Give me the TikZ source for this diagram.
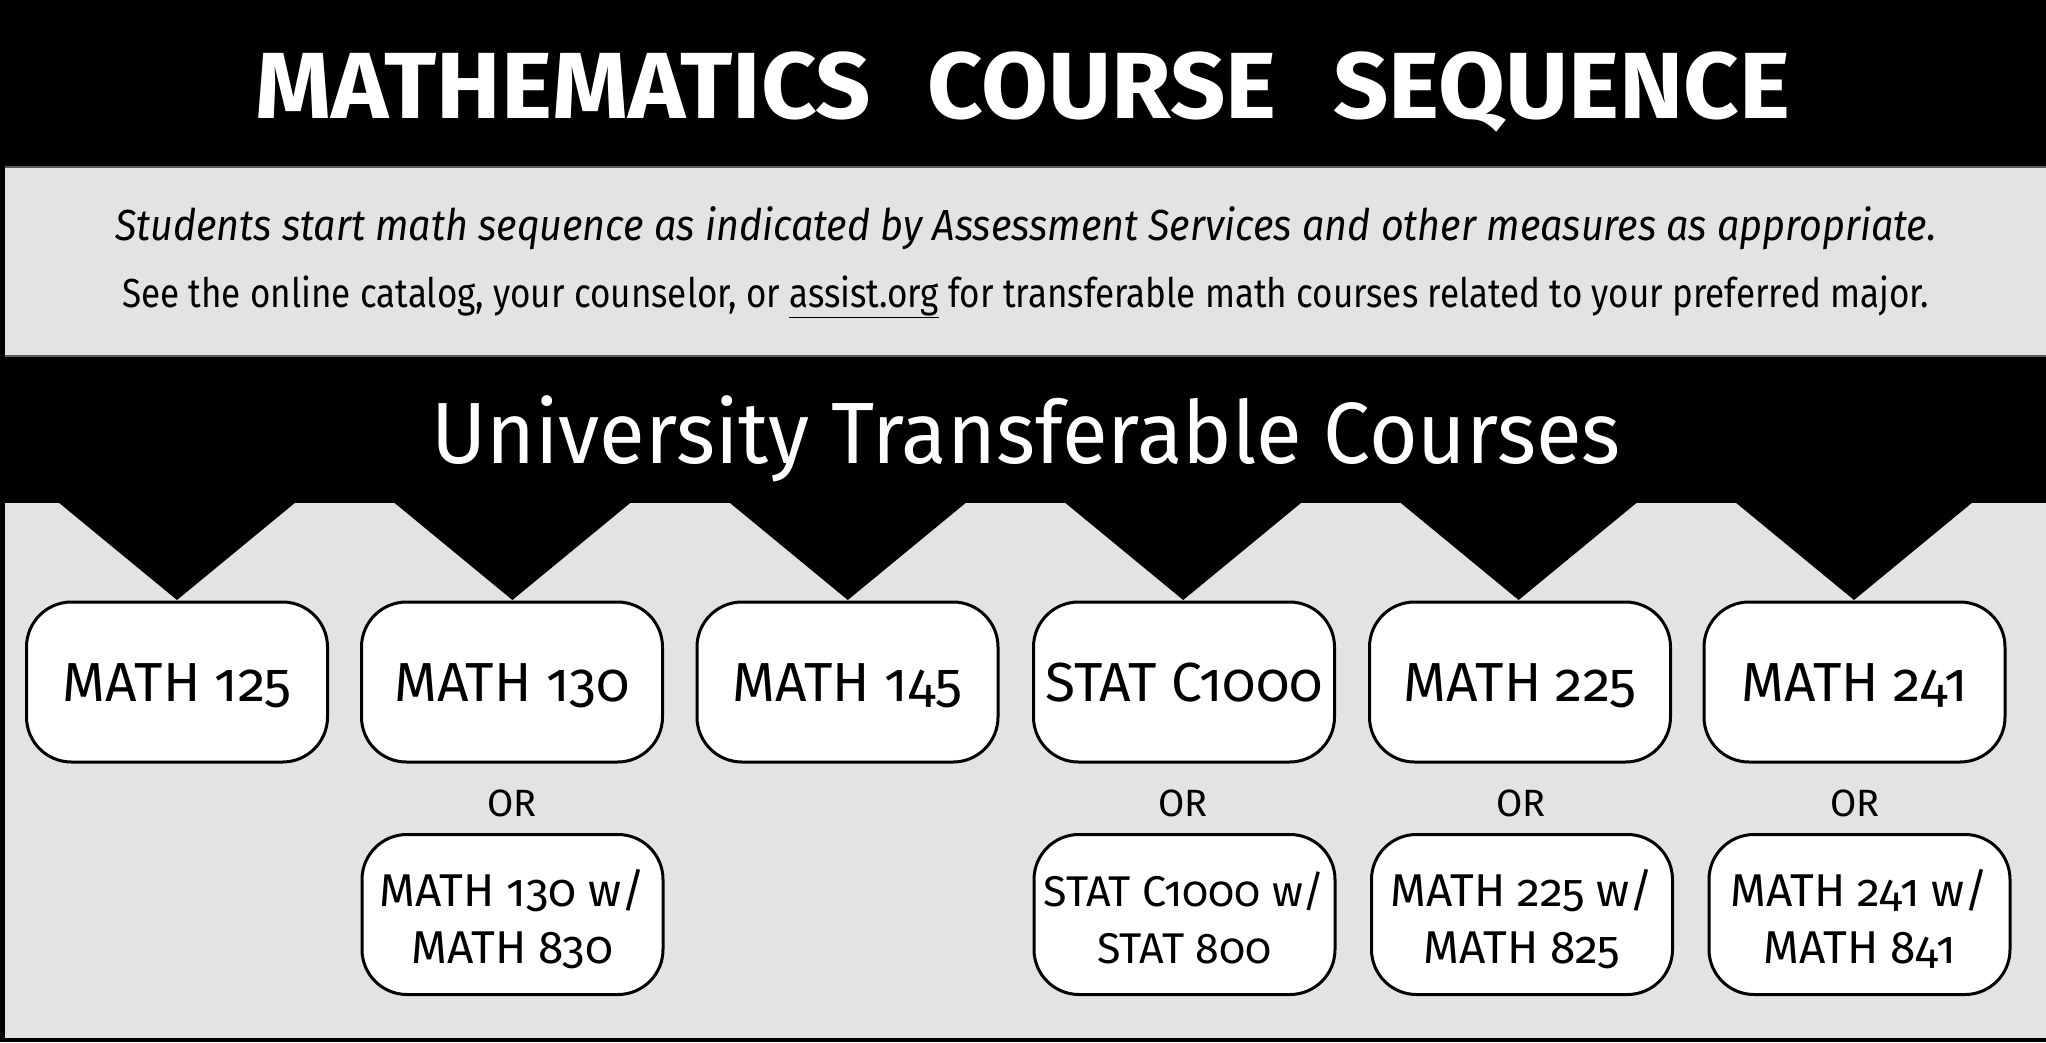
\documentclass[tikz,border=0pt]{standalone}
\usepackage{graphicx}
\usepackage{fontspec}
\setmainfont{Fira Sans}
\newfontfamily\boxfont[Numbers=OldStyle]{Fira Sans}
\definecolor{bggray}{RGB}{227,227,227}
\definecolor{sepgray}{RGB}{90,90,90}
\begin{document}
\begin{tikzpicture}[x=1pt,y=-1pt,
  course/.style={draw=black,line width=3pt,fill=white,rounded corners=45pt,
    minimum width=301pt,minimum height=160pt,inner sep=0pt,
    font=\boxfont\fontsize{55}{60}\selectfont,text height=38pt,text depth=0pt},
  course2/.style={draw=black,line width=3pt,fill=white,rounded corners=45pt,
    minimum width=301pt,minimum height=160pt,inner sep=0pt,align=center,
    font=\boxfont\fontsize{46}{57}\selectfont,text height=97pt,text depth=0pt},
  orlabel/.style={anchor=base,font=\boxfont\fontsize{38}{40}\selectfont},
  banner/.style={anchor=base,text=white}]
\useasboundingbox (0,0) rectangle (2046,1042);
\fill[bggray] (0,0) rectangle (2046,1042);
\fill[black] (0,0) rectangle (2046,167);
\fill[black] (0,356) rectangle (2046,503);
\foreach \cx in {177,512.4,847.8,1183.2,1518.6,1854}
  \fill[black] (\cx-119,502) -- (\cx+119,502) -- (\cx,600) -- cycle;
\draw[sepgray,line width=1.5pt] (0,167) -- (2046,167);
\draw[sepgray,line width=1.5pt] (0,356) -- (2046,356);
\draw[black,line width=5pt] (2.5,0) -- (2.5,1042);
\draw[black,line width=4pt] (0,1040) -- (2046,1040);

\node[banner,font=\bfseries\fontsize{94}{100}\selectfont] (title) at (1023,118)
  {\scalebox{1.03}[1]{MATHEMATICS\hspace{.35em} COURSE\hspace{.35em} SEQUENCE}};
\node[anchor=base,font=\itshape\fontsize{43.5}{50}\selectfont] (intro) at (1026,240)
  {\scalebox{0.908}[1]{Students start math sequence as indicated by Assessment Services and other measures as appropriate.}};
\node[anchor=base,font=\fontsize{40.6}{46}\selectfont] (note) at (1025.5,307)
  {\scalebox{0.863}[1]{See the online catalog, your counselor, or \underline{assist.org} for transferable math courses related to your preferred major.}};
\node[banner,font=\fontsize{87}{90}\selectfont] (univ) at (1026,463)
  {\scalebox{0.96}[1]{University Transferable Courses}};

\node[course] (m125) at (177,682) {MATH 125};
\node[course] (m130) at (512,682) {MATH 130};
\node[course] (m145) at (847.5,682) {MATH 145};
\node[course] (s1000) at (1184,682) {STAT C1000};
\node[course] (m225) at (1520,682) {MATH 225};
\node[course] (m241) at (1854.5,682) {MATH 241};

\node[orlabel] (or1) at (512,816) {OR};
\node[orlabel] (or2) at (1183,816) {OR};
\node[orlabel] (or3) at (1521,816) {OR};
\node[orlabel] (or4) at (1855,816) {OR};

\node[course2] (m130w) at (512.5,914.5) {MATH 130 w/\\MATH 830};
\node[course2,font=\boxfont\fontsize{43}{57}\selectfont] (s1000w) at (1184.5,914.5) {STAT C1000 w/\\STAT 800};
\node[course2] (m225w) at (1522,914.5) {MATH 225 w/\\MATH 825};
\node[course2] (m241w) at (1859.5,914.5) {MATH 241 w/\\MATH 841};
\end{tikzpicture}
\end{document}
